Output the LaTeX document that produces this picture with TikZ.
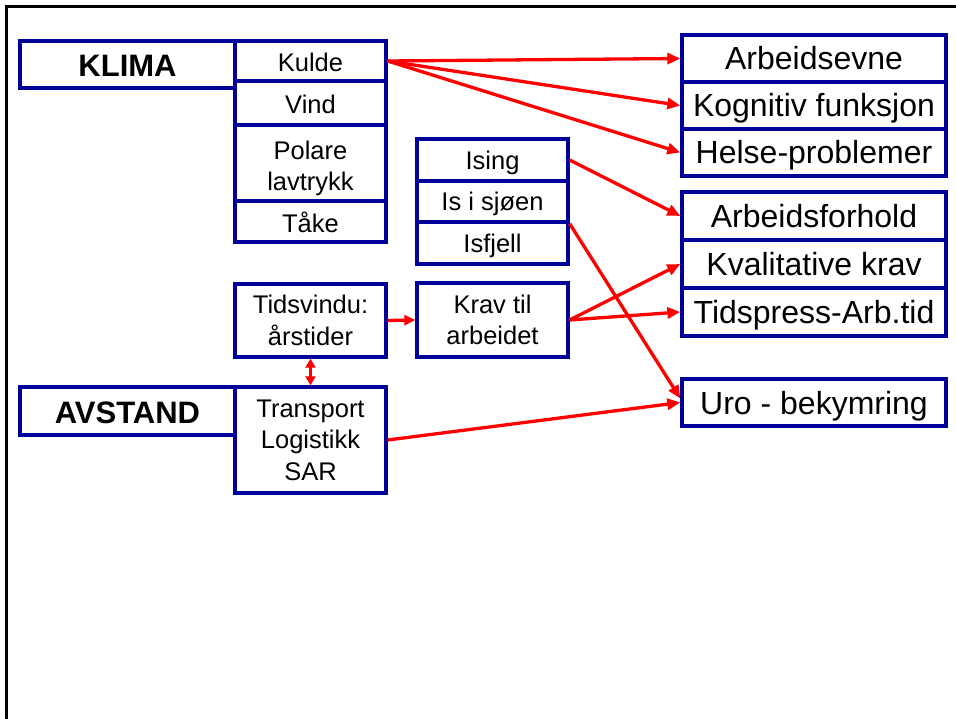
\documentclass[tikz,border=0pt]{standalone}
\usepackage{fontspec}
\setmainfont{Liberation Sans}
\usetikzlibrary{arrows.meta}
\definecolor{boxblue}{RGB}{0,0,153}
\definecolor{linkred}{RGB}{255,0,0}
\begin{document}
\begin{tikzpicture}[x=1pt,y=-1pt,
  box/.style={draw=boxblue, line width=3.3pt, fill=white, inner sep=0pt, align=center},
  small/.style={font=\fontsize{25.5}{31.5}\selectfont, minimum width=151pt},
  smallone/.style={small, text height=24pt, text depth=2pt},
  icebox/.style={small, text height=22pt, text depth=3pt},
  large/.style={font=\fontsize{32}{38}\selectfont, minimum width=264pt,
    minimum height=47pt, text height=28.5pt, text depth=5.5pt},
  heading/.style={font=\fontsize{31}{38}\selectfont\bfseries, minimum width=215pt,
    text height=28pt, text depth=3.8pt},
  link/.style={draw=linkred, line width=3.3pt, -{Triangle[length=13pt,width=11pt]}},
  shortlink/.style={draw=linkred, line width=3.3pt, -{Triangle[length=11pt,width=10pt]}},
  twolink/.style={draw=linkred, line width=3.3pt,
    {Triangle[length=9pt,width=10pt]}-{Triangle[length=9pt,width=10pt]}}]

\useasboundingbox (0,0) rectangle (956,719);

% frame
\draw[line width=3pt] (6.5,719) -- (6.5,6.5) -- (956,6.5);

% climate group
\node[box, heading, minimum height=47pt] (klima) at (127.5,64.5) {KLIMA};
\node[box, smallone, minimum height=40pt] (kulde) at (310.5,61) {Kulde};
\node[box, smallone, minimum height=44pt] (vind) at (310.5,103) {Vind};
\node[box, small, minimum height=76pt] (polare) at (310.5,163) {\rule{0pt}{29pt}Polare\\lavtrykk};
\node[box, smallone, minimum height=41pt] (taake) at (310.5,221.5) {Tåke};

% ice group
\node[box, icebox, minimum height=42pt] (ising) at (492.5,160) {Ising};
\node[box, icebox, minimum height=41pt] (sjoen) at (492.5,201.5) {Is i sjøen};
\node[box, icebox, minimum height=42pt] (isfjell) at (492.5,243) {Isfjell};

% time window and work demands
\node[box, small, minimum height=73pt] (tidsvindu) at (310.5,320.5) {Tidsvindu:\\årstider};
\node[box, small, minimum height=74pt] (krav) at (492.5,320) {Krav til\\arbeidet};

% distance group
\node[box, heading, minimum height=48pt] (avstand) at (127.5,411) {AVSTAND};
\node[box, small, minimum height=106pt] (transport) at (310.5,440) {Transport\\Logistikk\\SAR};

% outcomes
\node[box, large] (evne) at (814,58.5) {Arbeidsevne};
\node[box, large] (kognitiv) at (814,105.5) {Kognitiv funksjon};
\node[box, large] (helse) at (814,152.5) {Helse-problemer};
\node[box, large, minimum height=48pt] (forhold) at (814,216) {Arbeidsforhold};
\node[box, large, minimum height=48pt] (kvalitativ) at (814,264) {Kvalitative krav};
\node[box, large, minimum height=48pt] (tidspress) at (814,312) {Tidspress-Arb.tid};
\node[box, large] (uro) at (814,402.5) {Uro - bekymring};

% connections
\draw[link] (kulde.east) -- (evne.west);
\draw[link] (kulde.east) -- (kognitiv.west);
\draw[link] (kulde.east) -- (helse.west);
\draw[link] (ising.east) -- (forhold.west);
\draw[link] (sjoen.south east) -- ([yshift=4pt]uro.west);
\draw[link] (krav.east) -- (kvalitativ.west);
\draw[link] (krav.east) -- (tidspress.west);
\draw[link] (transport.east) -- (uro.west);
\draw[shortlink] (tidsvindu.east) -- (krav.west);
\draw[twolink] (tidsvindu.south) -- (transport.north);
\end{tikzpicture}
\end{document}
